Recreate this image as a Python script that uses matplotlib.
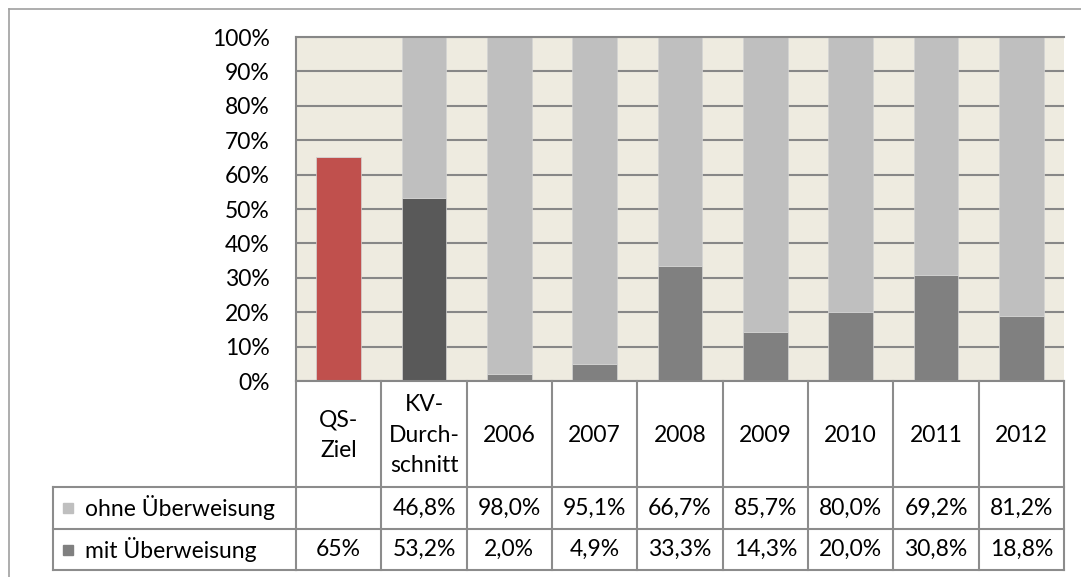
import numpy as np
import matplotlib
matplotlib.use("Agg")
import matplotlib.pyplot as plt
from matplotlib.transforms import blended_transform_factory

# ---- data ----
categories = ["QS-\nZiel", "KV-\nDurch-\nschnitt", "2006", "2007", "2008", "2009", "2010", "2011", "2012"]
mit = [65.0, 53.2, 2.0, 4.9, 33.3, 14.3, 20.0, 30.8, 18.8]
ohne = [0.0, 46.8, 98.0, 95.1, 66.7, 85.7, 80.0, 69.2, 81.2]
mit_labels = ["65%", "53,2%", "2,0%", "4,9%", "33,3%", "14,3%", "20,0%", "30,8%", "18,8%"]
ohne_labels = ["", "46,8%", "98,0%", "95,1%", "66,7%", "85,7%", "80,0%", "69,2%", "81,2%"]
series_names = ["ohne Überweisung", "mit Überweisung"]
yticks = [0, 10, 20, 30, 40, 50, 60, 70, 80, 90, 100]

# ---- styles ----
mit_colors = ["#C0504D", "#595959"] + ["#808080"] * 7
ohne_colors = ["#BFBFBF"] * 9
legend_colors = ["#BFBFBF", "#808080"]
grid_c = "#878787"
table_c = "#8C8C8C"
FONT = "Lato"
FS = 16.5

W, H = 1081, 577
fig = plt.figure(figsize=(W / 100, H / 100), dpi=100)
fig.patch.set_facecolor("white")

left_px, right_px, top_px, bottom_px = 296, 1064, 37, 381
ax = fig.add_axes([left_px / W, 1 - bottom_px / H, (right_px - left_px) / W, (bottom_px - top_px) / H])
ax.set_facecolor("#EEEBE0")
x = np.arange(len(categories))
ax.bar(x, mit, width=0.52, color=mit_colors, zorder=2, edgecolor="#D4D4D4", linewidth=0.5)
ax.bar(x, ohne, bottom=mit, width=0.52, color=ohne_colors, zorder=2, edgecolor="#D4D4D4", linewidth=0.5)
ax.set_xlim(-0.5, len(categories) - 0.5)
ax.set_ylim(0, 100)
ax.set_yticks(yticks)
ax.set_yticklabels([f"{v}%" for v in yticks], fontfamily=FONT, fontsize=FS)
ax.set_xticks([])
ax.tick_params(axis="y", length=0, pad=19)
ax.yaxis.grid(True, color=grid_c, lw=1.5)
ax.set_axisbelow(True)
for s in ["left", "bottom", "top"]:
    ax.spines[s].set_color(grid_c)
    ax.spines[s].set_linewidth(1.5)
ax.spines["right"].set_visible(False)

# ---- overlay for table ----
tax = fig.add_axes([0, 0, 1, 1])
tax.set_xlim(0, W)
tax.set_ylim(H, 0)
tax.axis("off")
tax.patch.set_alpha(0)
bt = blended_transform_factory(ax.transData, tax.transData)

# outer chart border
tax.plot([9, 9], [9, H], color="#A0A0A0", lw=1.2)
tax.plot([9, W], [9, 9], color="#A0A0A0", lw=1.2)

hdr_bot, r1_bot, r2_bot = 487, 529, 570
leg_left = 53
n = len(categories)
lw_t = 1.5
# vertical column lines
for i in range(n + 1):
    tax.plot([i - 0.5, i - 0.5], [bottom_px, r2_bot], color=table_c, lw=lw_t, transform=bt, clip_on=False)
# horizontal lines
for yy in [hdr_bot, r1_bot, r2_bot]:
    tax.plot([-0.5, n - 0.5], [yy, yy], color=table_c, lw=lw_t, transform=bt, clip_on=False)
    tax.plot([leg_left, left_px], [yy, yy], color=table_c, lw=lw_t)
tax.plot([leg_left, leg_left], [hdr_bot, r2_bot], color=table_c, lw=lw_t)

# header labels
for i, c in enumerate(categories):
    tax.text(i, (bottom_px + hdr_bot) / 2 + 1, c, transform=bt, ha="center", va="center",
             fontfamily=FONT, fontsize=FS, linespacing=1.55)

# value rows
row_centers = [(hdr_bot + r1_bot) / 2, (r1_bot + r2_bot) / 2]
for row, labels in zip(row_centers, [ohne_labels, mit_labels]):
    for i, lab in enumerate(labels):
        tax.text(i, row, lab, transform=bt, ha="center", va="center", fontfamily=FONT, fontsize=FS)

# legend keys
for row, name, col in zip(row_centers, series_names, legend_colors):
    tax.add_patch(plt.Rectangle((63, row - 5), 10, 10, color=col))
    tax.text(85, row, name, ha="left", va="center", fontfamily=FONT, fontsize=FS)

fig.savefig("out.png", dpi=100)
